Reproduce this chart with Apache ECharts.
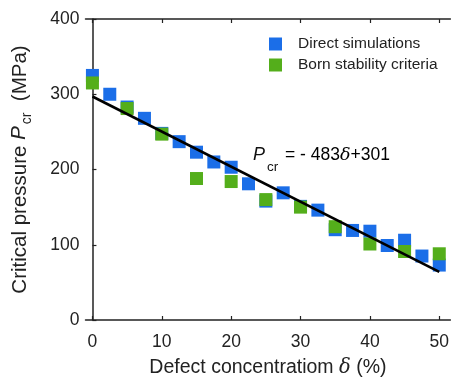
<!DOCTYPE html>
<html><head><meta charset="utf-8">
<script src="https://cdn.jsdelivr.net/npm/echarts@6/dist/echarts.min.js"></script>
<style>html,body{margin:0;padding:0;background:#fff}#c{width:452px;height:383px}</style>
</head><body><div id="c"></div>
<script>
const xTicks = [0, 10, 20, 30, 40, 50];
const yTicks = [0, 100, 200, 300, 400];
const directX = [0, 2.5, 5, 7.5, 10, 12.5, 15, 17.5, 20, 22.5, 25, 27.5, 30, 32.5, 35, 37.5, 40, 42.5, 45, 47.5, 50];
const directY = [325, 300, 283, 268, 248, 237, 223, 210, 203, 181, 158, 169, 151, 146, 120, 119, 118, 99, 106, 85, 73];
const bornX = [0, 5, 10, 15, 20, 25, 30, 35, 40, 45, 50];
const bornY = [315, 281, 247, 188, 184, 160, 150, 124, 101, 91, 88];
const fitX = [0, 50];
const fitY = [297, 64];
const seriesNames = ['Direct simulations', 'Born stability criteria'];

const font = 'Liberation Sans, Arial, sans-serif';
const chart = echarts.init(document.getElementById('c'));
const axisCol = '#222';
chart.setOption({
  animation: false,
  textStyle: {fontFamily: font},
  grid: {left: 85.5, top: 19, right: 0, bottom: 55},
  legend: {
    orient: 'vertical', left: 264, top: 31, itemGap: 5,
    itemWidth: 13, itemHeight: 13, icon: 'rect',
    textStyle: {fontSize: 15.5, color: '#222', fontFamily: font, padding: [0, 0, 0, 11]},
    data: seriesNames
  },
  xAxis: [{
    type: 'value', min: -1, max: 51.6, position: 'bottom',
    splitLine: {show: false},
    axisLine: {lineStyle: {color: axisCol, width: 1.5}},
    axisTick: {inside: true, length: 4, customValues: xTicks, lineStyle: {color: axisCol, width: 1.2}},
    axisLabel: {customValues: xTicks, fontSize: 17.5, color: '#222', margin: 13, fontFamily: font},
    name: 'Defect concentratiom {d|δ} (%)', nameLocation: 'middle', nameGap: 38,
    nameTextStyle: {fontSize: 19.5, color: '#222', fontFamily: font,
      rich: {d: {fontSize: 19.5, fontStyle: 'italic', fontFamily: 'DejaVu Serif, serif', color: '#222'}}}
  }, {
    type: 'value', min: -1, max: 51.6, position: 'top',
    splitLine: {show: false},
    axisLine: {lineStyle: {color: axisCol, width: 1.5}},
    axisTick: {inside: true, length: 4, customValues: xTicks, lineStyle: {color: axisCol, width: 1.2}},
    axisLabel: {show: false}
  }],
  yAxis: {
    type: 'value', min: 0, max: 400, interval: 100,
    splitLine: {show: false},
    axisLine: {show: true, lineStyle: {color: axisCol, width: 1.5}},
    axisTick: {show: true, inside: true, length: 4, lineStyle: {color: axisCol, width: 1.2}},
    axisLabel: {fontSize: 17.5, color: '#222', margin: 6, fontFamily: font,
      formatter: v => yTicks.includes(v) ? String(v) : ''},
    name: '{n|Critical pressure }{p|P}{s|cr}{n|  (MPa)}', nameLocation: 'middle', nameGap: 53,
    nameTextStyle: {
      rich: {
        n: {fontSize: 20.5, color: '#222', fontFamily: font, lineHeight: 23, verticalAlign: 'top'},
        p: {fontSize: 20.5, color: '#222', fontFamily: font, fontStyle: 'italic', lineHeight: 23, verticalAlign: 'top'},
        s: {fontSize: 14, color: '#222', fontFamily: font, lineHeight: 15, verticalAlign: 'top', padding: [11, 0, 0, 2]}
      }
    }
  },
  graphic: [
    {type: 'text', left: 253, top: 146, style: {text: 'P', font: 'italic 18px ' + font, fill: '#111'}},
    {type: 'text', left: 267, top: 160, style: {text: 'cr', font: '13.5px ' + font, fill: '#111'}},
    {type: 'text', left: 285, top: 146, style: {
      text: '{a|= - 483}{d|δ}{a|+301}',
      rich: {
        a: {fontSize: 17.5, fontFamily: font, color: '#111', lineHeight: 20},
        d: {fontSize: 17.5, fontFamily: 'DejaVu Serif, serif', fontStyle: 'italic', color: '#111', lineHeight: 20}
      }
    }}
  ],
  series: [
    {name: seriesNames[0], type: 'scatter', symbol: 'rect', symbolSize: 13, z: 2,
      itemStyle: {color: '#1b6ee8', opacity: 1},
      data: directX.map((x, i) => [x, directY[i]])},
    {name: seriesNames[1], type: 'scatter', symbol: 'rect', symbolSize: 13, z: 3,
      itemStyle: {color: '#54ae1b', opacity: 1},
      data: bornX.map((x, i) => [x, bornY[i]])},
    {name: 'fit', type: 'line', symbol: 'none', z: 5, silent: true,
      lineStyle: {color: '#000', width: 2.6},
      data: fitX.map((x, i) => [x, fitY[i]])}
  ]
});
</script></body></html>
